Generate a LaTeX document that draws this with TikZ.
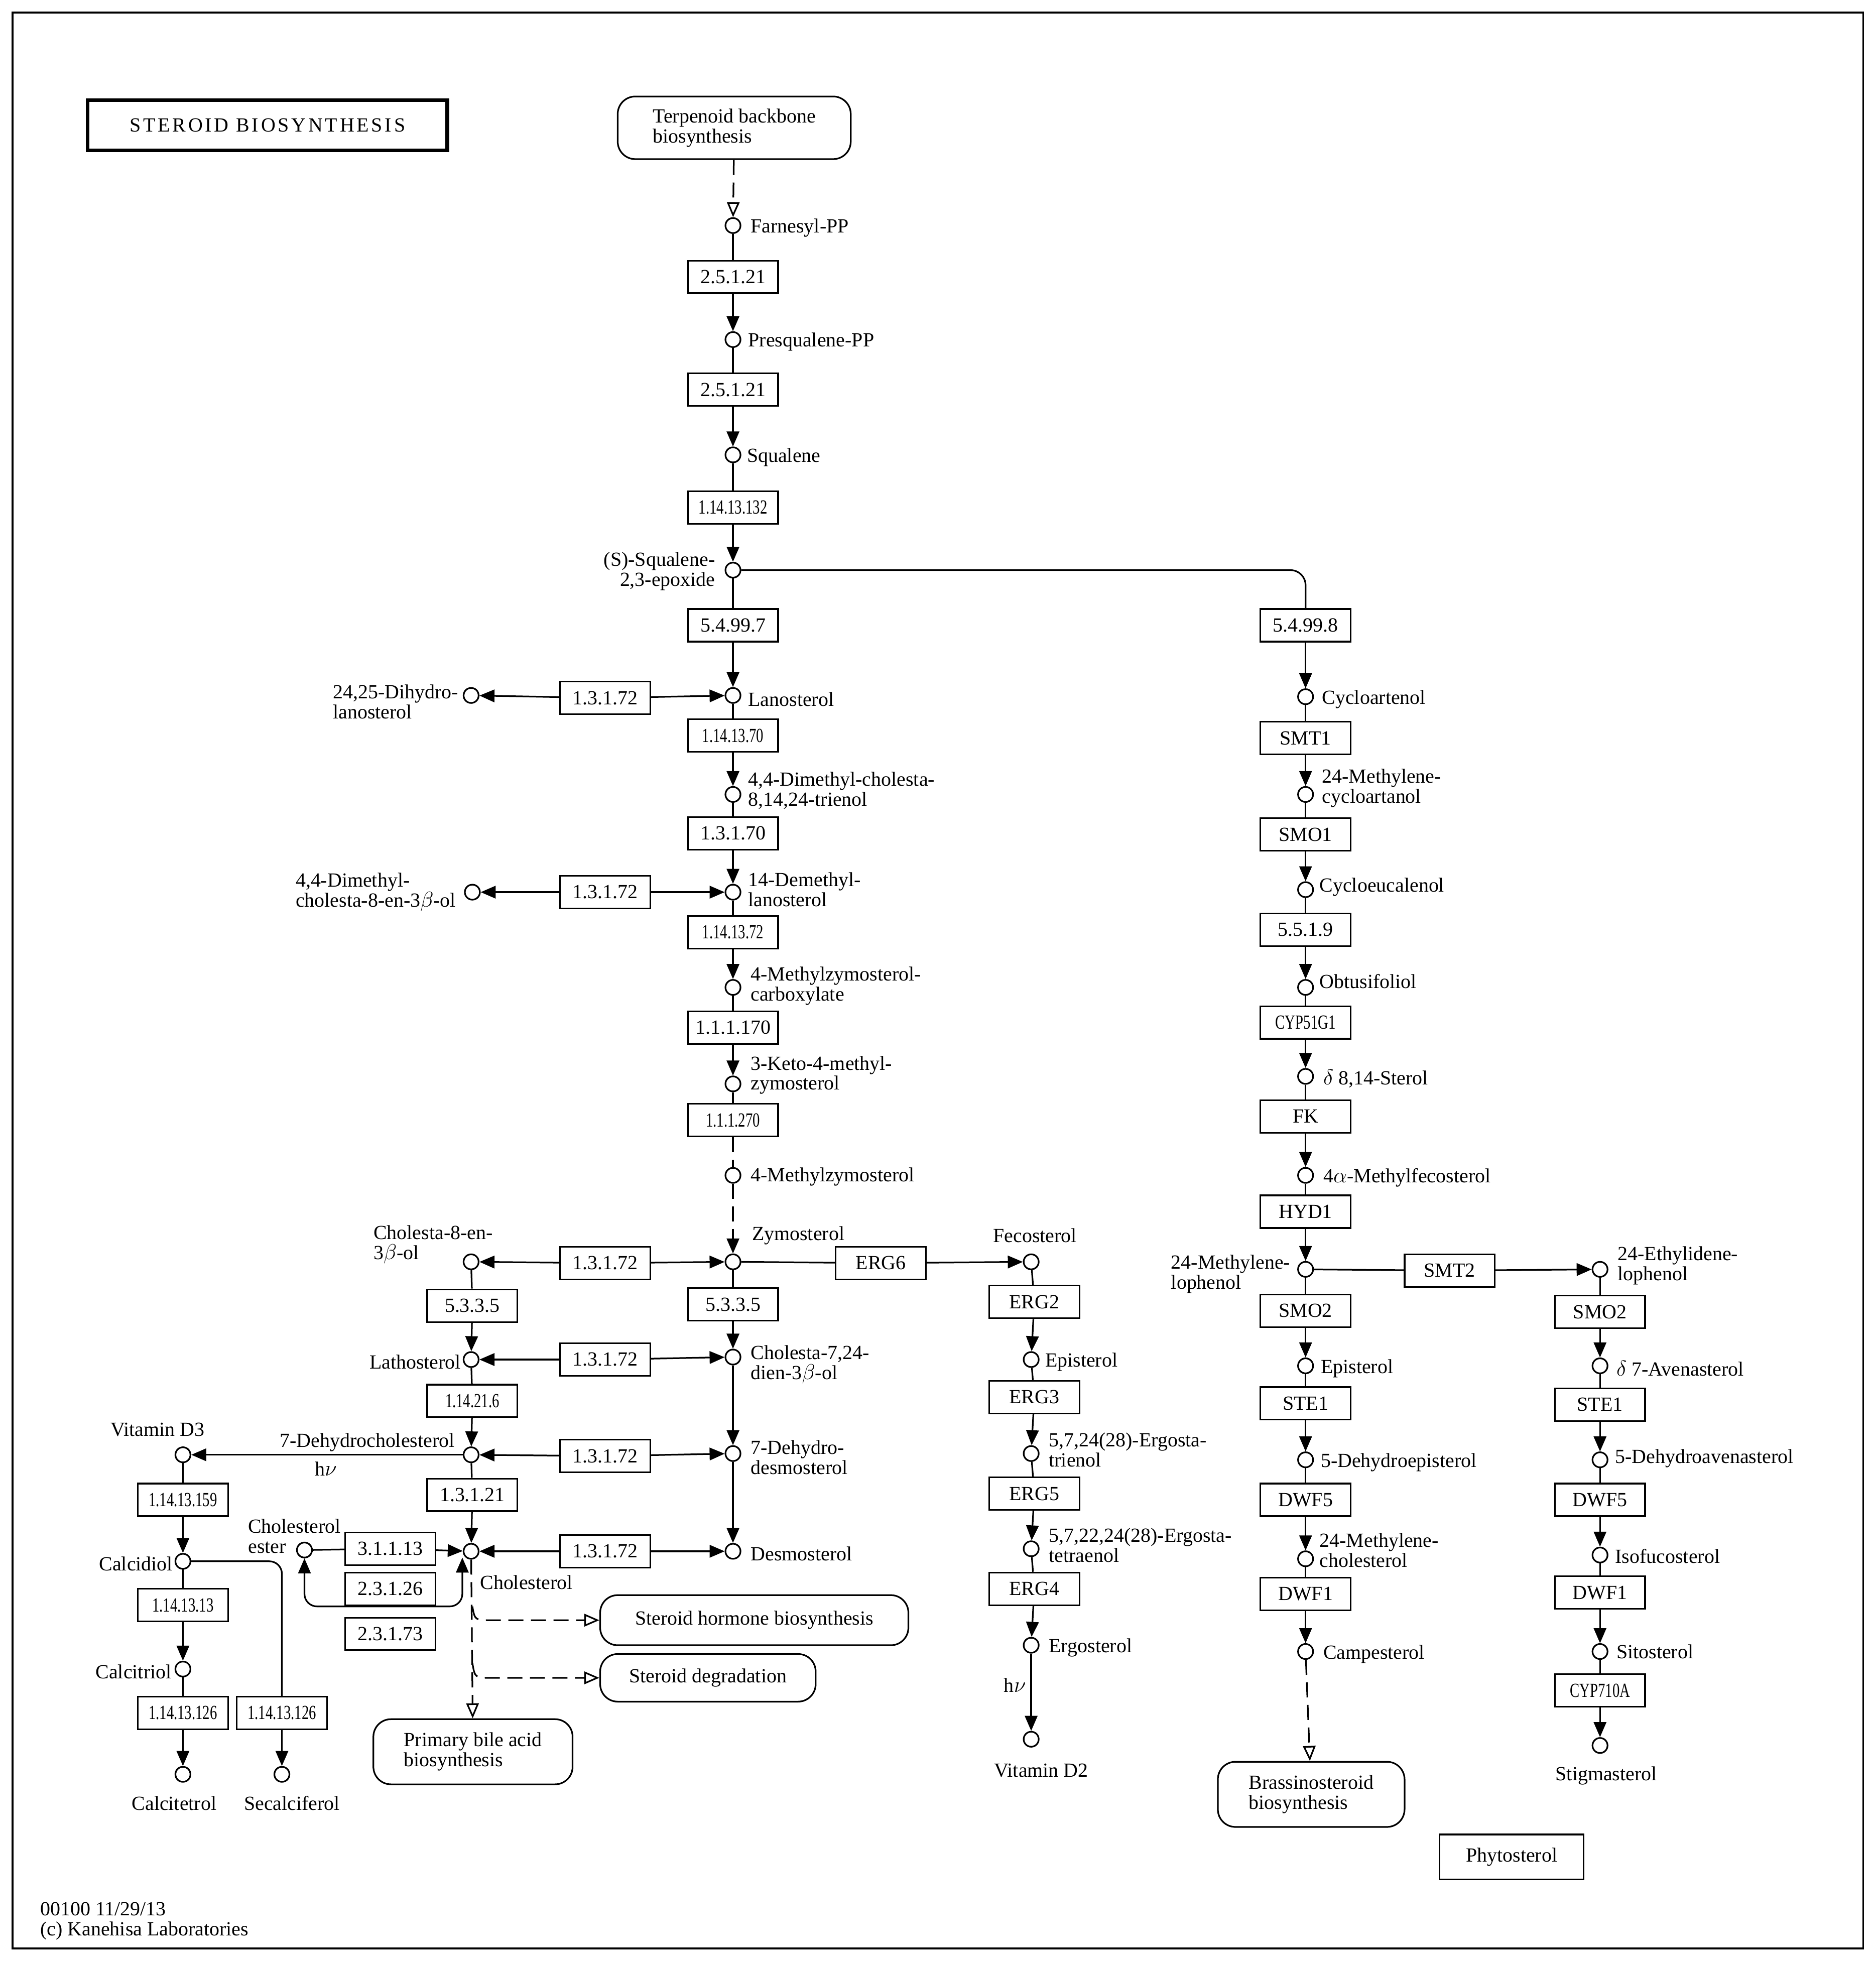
\documentclass[tikz,border=0pt]{standalone}
\usepackage{fontspec}
\setmainfont{Liberation Serif}
\usetikzlibrary{arrows.meta}
\tikzset{
 lw/.style={line width=1.3pt},
 cpd/.style={circle,draw,lw,minimum size=12pt,inner sep=0pt},
 enz/.style={rectangle,draw,lw,minimum width=72pt,minimum height=26pt,inner sep=1pt,font=\fontsize{16}{16}\selectfont},
 map/.style={rectangle,rounded corners=14pt,draw,lw,align=left,inner sep=0pt,font=\fontsize{16}{16}\selectfont},
 lab/.style={inner sep=0pt,align=left,font=\fontsize{16}{16}\selectfont},
 arr/.style={lw,-{Triangle[length=12pt,width=10pt]}},
 darr/.style={lw,{Triangle[length=12pt,width=10pt]}-{Triangle[length=12pt,width=10pt]}},
 dsh/.style={lw,dash pattern=on 12pt off 6pt},
 oarr/.style={dsh,-{Triangle[open,length=12pt,width=10pt]}},
 ln/.style={lw}
}
\newcommand\sq[1]{\scalebox{0.72}[1]{#1}}
\newcommand\cpd[3]{\node[cpd] (#1) at (#2,#3) {};}
\newcommand\enz[4]{\node[enz] (#1) at (#2,#3) {#4};}
\begin{document}
\begin{tikzpicture}[x=1pt,y=-1pt]
\useasboundingbox (0,0) rectangle (1497,1565);
\draw[lw] (10,10) rectangle (1487,1555);
% title
\node[draw,line width=3pt,minimum width=287pt,minimum height=40pt,font=\fontsize{16}{16}\selectfont\addfontfeature{LetterSpace=12}] (title) at (213.5,100) {STEROID BIOSYNTHESIS};
\node[lab,anchor=west] (foot) at (32,1533) {00100 11/29/13\\(c) Kanehisa Laboratories};
% maps
\node[map,minimum width=186pt,minimum height=50pt] (terp) at (586,102) {Terpenoid backbone\\biosynthesis};
\node[map,minimum width=159pt,minimum height=52pt] (bile) at (377.5,1398) {Primary bile acid\\biosynthesis};
\node[map,minimum width=246pt,minimum height=40pt] (shb) at (602,1293) {Steroid hormone biosynthesis};
\node[map,minimum width=172pt,minimum height=38pt] (sdeg) at (565,1339) {Steroid degradation};
\node[map,minimum width=149pt,minimum height=52pt] (brass) at (1046.5,1432) {Brassinosteroid\\biosynthesis};
\node[rectangle,draw,lw,minimum width=115pt,minimum height=36pt,font=\fontsize{16}{16}\selectfont] (phyto) at (1206.5,1482) {Phytosterol};
% main column
\cpd{farn}{585}{180}
\enz{e1}{585}{221}{2.5.1.21}
\cpd{presq}{585}{271}
\enz{e2}{585}{311}{2.5.1.21}
\cpd{squal}{585}{363}
\enz{e3}{585}{405}{\sq{1.14.13.132}}
\cpd{epox}{585}{455}
\enz{e4}{585}{499}{5.4.99.7}
\cpd{lano}{585}{555}
\enz{e5}{585}{587}{\sq{1.14.13.70}}
\cpd{dmc}{585}{634}
\enz{e6}{585}{665}{1.3.1.70}
\cpd{dml}{585}{712}
\enz{e7}{585}{744}{\sq{1.14.13.72}}
\cpd{mzc}{585}{788}
\enz{e8}{585}{820}{1.1.1.170}
\cpd{keto}{585}{865}
\enz{e9}{585}{894}{\sq{1.1.1.270}}
\cpd{mz}{585}{938}
\cpd{zymo}{585}{1007}
\enz{e10}{585}{1041}{5.3.3.5}
\cpd{cdien}{585}{1083}
\cpd{dhd}{585}{1160}
\cpd{desmo}{585}{1238}
\draw[oarr] (terp) -- (farn);
\draw[ln] (farn)--(e1); \draw[arr] (e1)--(presq);
\draw[ln] (presq)--(e2); \draw[arr] (e2)--(squal);
\draw[ln] (squal)--(e3); \draw[arr] (e3)--(epox);
\draw[ln] (epox)--(e4); \draw[arr] (e4)--(lano);
\draw[ln] (lano)--(e5); \draw[arr] (e5)--(dmc);
\draw[ln] (dmc)--(e6); \draw[arr] (e6)--(dml);
\draw[ln] (dml)--(e7); \draw[arr] (e7)--(mzc);
\draw[ln] (mzc)--(e8); \draw[arr] (e8)--(keto);
\draw[ln] (keto)--(e9); \draw[dsh] (e9)--(mz);
\draw[dsh,-{Triangle[length=12pt,width=10pt]}] (mz)--(zymo);
\draw[ln] (zymo)--(e10); \draw[arr] (e10)--(cdien);
\draw[arr] (cdien)--(dhd); \draw[arr] (dhd)--(desmo);
\node[lab,anchor=west] at (599,182) {Farnesyl-PP};
\node[lab,anchor=west] at (597,273) {Presqualene-PP};
\node[lab,anchor=west] at (596,365) {Squalene};
\node[lab,anchor=east,align=right] at (571,456) {(S)-Squalene-\\2,3-epoxide};
\node[lab,anchor=west] at (597,558) {Lanosterol};
\node[lab,anchor=west] at (597,631) {4,4-Dimethyl-cholesta-\\8,14,24-trienol};
\node[lab,anchor=west] at (597,710) {14-Demethyl-\\lanosterol};
\node[lab,anchor=west] at (599,787) {4-Methylzymosterol-\\carboxylate};
\node[lab,anchor=west] at (599,858) {3-Keto-4-methyl-\\zymosterol};
\node[lab,anchor=west] at (599,939) {4-Methylzymosterol};
\node[lab,anchor=west] at (600,986) {Zymosterol};
\node[lab,anchor=west] at (599,1089) {Cholesta-7,24-\\dien-3$\beta$-ol};
\node[lab,anchor=west] at (599,1163) {7-Dehydro-\\desmosterol};
\node[lab,anchor=west] at (599,1240) {Desmosterol};
% 1.3.1.72 side reactions
\cpd{dhl}{376}{555}
\enz{s1}{483}{557}{1.3.1.72}
\draw[arr] (s1)--(dhl); \draw[arr] (s1)--(lano);
\node[lab,anchor=east,align=left] at (366,560) {24,25-Dihydro-\\lanosterol};
\cpd{dmch}{377}{712}
\enz{s2}{483}{712}{1.3.1.72}
\draw[arr] (s2)--(dmch); \draw[arr] (s2)--(dml);
\node[lab,anchor=east,align=left] at (364,712) {4,4-Dimethyl-\\cholesta-8-en-3$\beta$-ol};
\cpd{c8}{376}{1007}
\enz{s3}{483}{1008}{1.3.1.72}
\draw[arr] (s3)--(c8); \draw[arr] (s3)--(zymo);
\node[lab,anchor=west] at (298,993) {Cholesta-8-en-\\3$\beta$-ol};
\enz{e11}{377}{1042}{5.3.3.5}
\cpd{latho}{376}{1085}
\draw[ln] (c8)--(e11); \draw[arr] (e11)--(latho);
\enz{s4}{483}{1085}{1.3.1.72}
\draw[arr] (s4)--(latho); \draw[arr] (s4)--(cdien);
\node[lab,anchor=east] at (368,1087) {Lathosterol};
\enz{e12}{377}{1118}{\sq{1.14.21.6}}
\cpd{dhc}{376}{1161}
\draw[ln] (latho)--(e12); \draw[arr] (e12)--(dhc);
\enz{s5}{483}{1162}{1.3.1.72}
\draw[arr] (s5)--(dhc); \draw[arr] (s5)--(dhd);
\node[lab,anchor=east] at (363,1151) {7-Dehydrocholesterol};
\enz{e13}{377}{1193}{1.3.1.21}
\cpd{chol}{376}{1238}
\draw[ln] (dhc)--(e13); \draw[arr] (e13)--(chol);
\enz{s6}{483}{1238}{1.3.1.72}
\draw[arr] (s6)--(chol); \draw[arr] (s6)--(desmo);
\node[lab,anchor=west] at (383,1263) {Cholesterol};
% cholesterol ester
\cpd{ester}{243}{1237}
\node[lab,anchor=east,align=left] at (272,1226) {Cholesterol\\ester};
\enz{e14}{311.5}{1236}{3.1.1.13}
\enz{e15}{311.5}{1268}{2.3.1.26}
\enz{e16}{311.5}{1304}{2.3.1.73}
\draw[ln] (ester)--(e14); \draw[arr] (e14)--(chol);
\coordinate (lpR) at (369,1243);
\draw[darr,rounded corners=10pt] (ester.south) -- (243,1282) -- (369,1282) -- (lpR);
% cholesterol outputs
\draw[oarr] (chol)--(bile);
\coordinate (br1) at (377,1282);
\coordinate (br2) at (377,1327);
\draw[oarr] (br1) .. controls (379,1293) .. (392,1293) -- (shb);
\draw[oarr] (br2) .. controls (379,1339) .. (392,1339) -- (sdeg);
% vitamin D3
\cpd{vd3}{146}{1161}
\draw[arr] (dhc)--(vd3);
\node[lab] at (260,1172) {h$\nu$};
\node[lab,anchor=west] at (88,1141) {Vitamin D3};
\enz{e17}{146}{1197}{\sq{1.14.13.159}}
\cpd{calcd}{146}{1246}
\draw[ln] (vd3)--(e17); \draw[arr] (e17)--(calcd);
\node[lab,anchor=east] at (138,1248) {Calcidiol};
\enz{e18}{146}{1281}{\sq{1.14.13.13}}
\cpd{calct}{146}{1332}
\draw[ln] (calcd)--(e18); \draw[arr] (e18)--(calct);
\node[lab,anchor=east] at (137,1334) {Calcitriol};
\enz{e19}{146}{1367}{\sq{1.14.13.126}}
\cpd{calctet}{146}{1416}
\draw[ln] (calct)--(e19); \draw[arr] (e19)--(calctet);
\node[lab] at (139,1439) {Calcitetrol};
\enz{e20}{225}{1367}{\sq{1.14.13.126}}
\cpd{secal}{225}{1416}
\draw[ln,rounded corners=10pt] (calcd) -- (225,1246) -- (e20);
\draw[arr] (e20)--(secal);
\node[lab] at (233,1439) {Secalciferol};
% ergosterol branch
\enz{erg6}{703}{1008}{ERG6}
\cpd{feco}{823}{1007}
\draw[ln] (zymo)--(erg6); \draw[arr] (erg6)--(feco);
\node[lab] at (826,986) {Fecosterol};
\enz{erg2}{825.5}{1039}{ERG2}
\cpd{epi}{823}{1085}
\draw[ln] (feco)--(erg2); \draw[arr] (erg2)--(epi);
\node[lab,anchor=west] at (834,1087) {Episterol};
\enz{erg3}{825.5}{1115}{ERG3}
\cpd{trien}{823}{1160}
\draw[ln] (epi)--(erg3); \draw[arr] (erg3)--(trien);
\node[lab,anchor=west] at (837,1157) {5,7,24(28)-Ergosta-\\trienol};
\enz{erg5}{825.5}{1192}{ERG5}
\cpd{tetra}{823}{1236}
\draw[ln] (trien)--(erg5); \draw[arr] (erg5)--(tetra);
\node[lab,anchor=west] at (837,1233) {5,7,22,24(28)-Ergosta-\\tetraenol};
\enz{erg4}{825.5}{1268}{ERG4}
\cpd{ergo}{823}{1313}
\draw[ln] (tetra)--(erg4); \draw[arr] (erg4)--(ergo);
\node[lab,anchor=west] at (837,1315) {Ergosterol};
\cpd{vd2}{823}{1388}
\draw[arr] (ergo)--(vd2);
\node[lab] at (810,1345) {h$\nu$};
\node[lab] at (831,1413) {Vitamin D2};
% plant branch
\enz{p1}{1042}{499}{5.4.99.8}
\draw[ln,rounded corners=12pt] (epox) -- (1042,455) -- (p1);
\cpd{cyclo}{1042}{556}
\draw[arr] (p1)--(cyclo);
\node[lab,anchor=west] at (1055,558) {Cycloartenol};
\enz{p2}{1042}{589}{SMT1}
\cpd{mca}{1042}{634}
\draw[ln] (cyclo)--(p2); \draw[arr] (p2)--(mca);
\node[lab,anchor=west] at (1055,629) {24-Methylene-\\cycloartanol};
\enz{p3}{1042}{666}{SMO1}
\cpd{ceu}{1042}{710}
\draw[ln] (mca)--(p3); \draw[arr] (p3)--(ceu);
\node[lab,anchor=west] at (1053,708) {Cycloeucalenol};
\enz{p4}{1042}{742}{5.5.1.9}
\cpd{obt}{1042}{788}
\draw[ln] (ceu)--(p4); \draw[arr] (p4)--(obt);
\node[lab,anchor=west] at (1053,783) {Obtusifoliol};
\enz{p5}{1042}{816}{\sq{CYP51G1}}
\cpd{d814}{1042}{859}
\draw[ln] (obt)--(p5); \draw[arr] (p5)--(d814);
\node[lab,anchor=west] at (1056,861) {$\delta$ 8,14-Sterol};
\enz{p6}{1042}{891}{FK}
\cpd{amf}{1042}{938}
\draw[ln] (d814)--(p6); \draw[arr] (p6)--(amf);
\node[lab,anchor=west] at (1056,940) {4$\alpha$-Methylfecosterol};
\enz{p7}{1042}{967}{HYD1}
\cpd{mlo}{1042}{1013}
\draw[ln] (amf)--(p7); \draw[arr] (p7)--(mlo);
\node[lab,anchor=east,align=left] at (1030,1017) {24-Methylene-\\lophenol};
\enz{p8}{1157}{1014}{SMT2}
\cpd{elo}{1277}{1013}
\draw[ln] (mlo)--(p8); \draw[arr] (p8)--(elo);
\node[lab,anchor=west] at (1291,1010) {24-Ethylidene-\\lophenol};
\enz{p9}{1042}{1046}{SMO2}
\cpd{epi2}{1042}{1090}
\draw[ln] (mlo)--(p9); \draw[arr] (p9)--(epi2);
\node[lab,anchor=west] at (1054,1092) {Episterol};
\enz{p10}{1042}{1120}{STE1}
\cpd{dhe}{1042}{1165}
\draw[ln] (epi2)--(p10); \draw[arr] (p10)--(dhe);
\node[lab,anchor=west] at (1054,1167) {5-Dehydroepisterol};
\enz{p11}{1042}{1197}{DWF5}
\cpd{mch}{1042}{1244}
\draw[ln] (dhe)--(p11); \draw[arr] (p11)--(mch);
\node[lab,anchor=west] at (1053,1237) {24-Methylene-\\cholesterol};
\enz{p12}{1042}{1272}{DWF1}
\cpd{camp}{1042}{1318}
\draw[ln] (mch)--(p12); \draw[arr] (p12)--(camp);
\node[lab,anchor=west] at (1056,1320) {Campesterol};
\draw[oarr] (camp)--(brass);
\enz{q1}{1277}{1047}{SMO2}
\cpd{ave}{1277}{1090}
\draw[ln] (elo)--(q1); \draw[arr] (q1)--(ave);
\node[lab,anchor=west] at (1290,1092) {$\delta$ 7-Avenasterol};
\enz{q2}{1277}{1121}{STE1}
\cpd{dha}{1277}{1165}
\draw[ln] (ave)--(q2); \draw[arr] (q2)--(dha);
\node[lab,anchor=west] at (1289,1164) {5-Dehydroavenasterol};
\enz{q3}{1277}{1197}{DWF5}
\cpd{iso}{1277}{1241}
\draw[ln] (dha)--(q3); \draw[arr] (q3)--(iso);
\node[lab,anchor=west] at (1289,1242) {Isofucosterol};
\enz{q4}{1277}{1271}{DWF1}
\cpd{sito}{1277}{1318}
\draw[ln] (iso)--(q4); \draw[arr] (q4)--(sito);
\node[lab,anchor=west] at (1290,1318) {Sitosterol};
\enz{q5}{1277}{1349}{\sq{CYP710A}}
\cpd{stig}{1277}{1393}
\draw[ln] (sito)--(q5); \draw[arr] (q5)--(stig);
\node[lab] at (1282,1417) {Stigmasterol};
\end{tikzpicture}
\end{document}
